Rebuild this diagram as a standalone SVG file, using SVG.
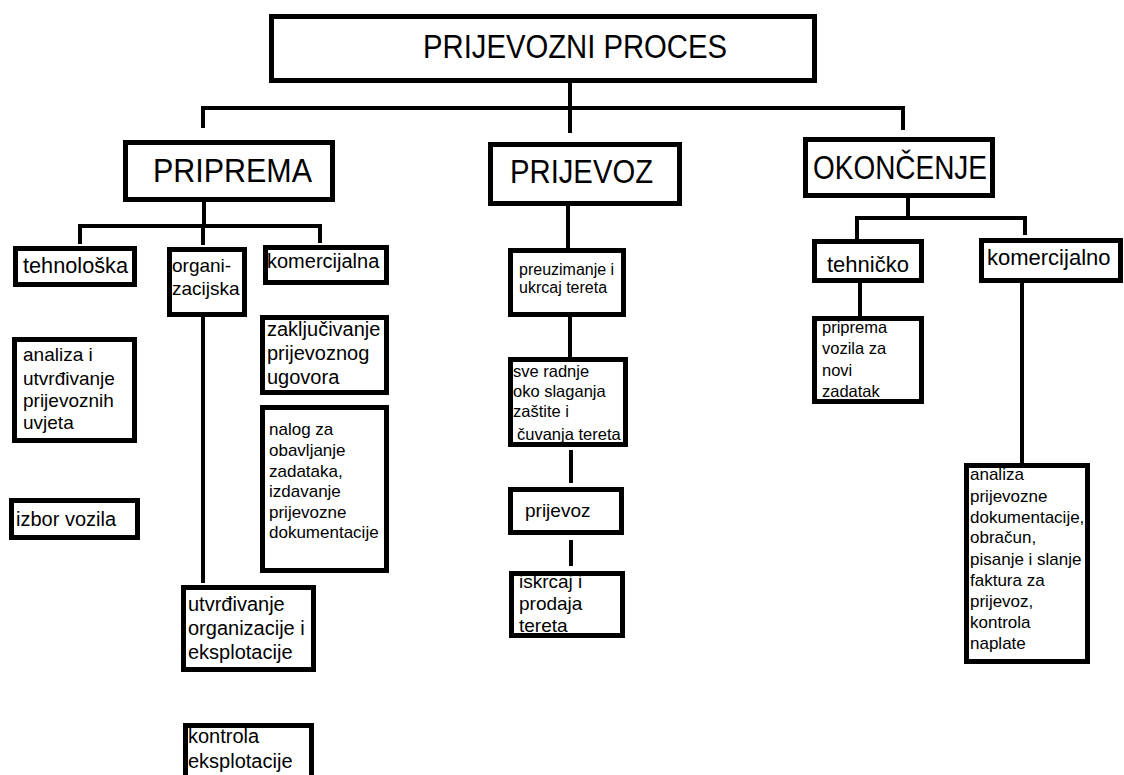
<svg xmlns="http://www.w3.org/2000/svg" width="1124" height="775" viewBox="0 0 1124 775">
<style>
.b{fill:#fff;stroke:#000;stroke-width:5}
.c{stroke:#000;stroke-width:4;fill:none}
text{font-family:"Liberation Sans",Arial,sans-serif;fill:#000}
.h{font-size:34px}
</style>
<rect width="1124" height="775" fill="#fff"/>
<g id="connectors">
<line class="c" x1="570" y1="83" x2="570" y2="133"/>
<line class="c" x1="201" y1="108" x2="905" y2="108"/>
<line class="c" x1="203" y1="108" x2="203" y2="128"/>
<line class="c" x1="903" y1="108" x2="903" y2="130"/>
<line class="c" x1="204" y1="202" x2="204" y2="226"/>
<line class="c" x1="78" y1="226" x2="322" y2="226"/>
<line class="c" x1="80" y1="226" x2="80" y2="244"/>
<line class="c" x1="203" y1="226" x2="203" y2="245"/>
<line class="c" x1="320" y1="226" x2="320" y2="243"/>
<line class="c" x1="203" y1="317" x2="203" y2="583"/>
<line class="c" x1="568" y1="205" x2="568" y2="248"/>
<line class="c" x1="570" y1="317" x2="570" y2="357"/>
<line class="c" x1="571" y1="450" x2="571" y2="483"/>
<line class="c" x1="571" y1="540" x2="571" y2="566"/>
<line class="c" x1="908" y1="198" x2="908" y2="218"/>
<line class="c" x1="855" y1="218" x2="1027" y2="218"/>
<line class="c" x1="857" y1="218" x2="857" y2="239"/>
<line class="c" x1="1025" y1="218" x2="1025" y2="235"/>
<line class="c" x1="860" y1="283" x2="860" y2="325"/>
<line class="c" x1="1022" y1="283" x2="1022" y2="463"/>
</g>
<g id="n-root"><rect class="b" x="271.5" y="16.5" width="543" height="64"/><text x="423" y="58" font-size="33" textLength="304" lengthAdjust="spacingAndGlyphs">PRIJEVOZNI PROCES</text></g>
<g id="n-priprema"><rect class="b" x="125.5" y="142.5" width="207" height="57"/><text x="153" y="182" class="h" textLength="159" lengthAdjust="spacingAndGlyphs">PRIPREMA</text></g>
<g id="n-prijevoz"><rect class="b" x="490.5" y="144.5" width="189" height="59"/><text x="510" y="183" class="h" textLength="143" lengthAdjust="spacingAndGlyphs">PRIJEVOZ</text></g>
<g id="n-okoncenje"><rect class="b" x="805.5" y="139.5" width="187" height="56"/><text x="813" y="179" class="h" textLength="174" lengthAdjust="spacingAndGlyphs">OKONČENJE</text></g>
<g id="n-tehnoloska"><rect class="b" x="15.5" y="248.5" width="119" height="36"/><text x="23" y="273" font-size="22" textLength="105" lengthAdjust="spacingAndGlyphs">tehnološka</text></g>
<g id="n-organizacijska"><rect class="b" x="169.5" y="249.5" width="75" height="65"/><text font-size="19"><tspan x="172" y="272">organi-</tspan><tspan x="172" y="295">zacijska</tspan></text></g>
<g id="n-komercijalna"><rect class="b" x="265.5" y="247.5" width="121" height="35"/><text x="267" y="268" font-size="20">komercijalna</text></g>
<g id="n-zakljucivanje"><rect class="b" x="262.5" y="317.5" width="124" height="75"/><text font-size="20"><tspan x="267" y="336">zaključivanje</tspan><tspan x="267" y="360">prijevoznog</tspan><tspan x="267" y="384">ugovora</tspan></text></g>
<g id="n-nalog"><rect class="b" x="262.5" y="407.5" width="124" height="163"/><text font-size="17"><tspan x="269" y="435">nalog za</tspan><tspan x="269" y="456">obavljanje</tspan><tspan x="269" y="477">zadataka,</tspan><tspan x="269" y="497">izdavanje</tspan><tspan x="269" y="518">prijevozne</tspan><tspan x="269" y="538">dokumentacije</tspan></text></g>
<g id="n-analiza-uvjeta"><rect class="b" x="14.5" y="339.5" width="120" height="101"/><text font-size="19"><tspan x="23" y="361">analiza i</tspan><tspan x="23" y="385">utvrđivanje</tspan><tspan x="23" y="407">prijevoznih</tspan><tspan x="23" y="429">uvjeta</tspan></text></g>
<g id="n-izbor"><rect class="b" x="11.5" y="500.5" width="126" height="37"/><text x="16" y="526" font-size="20">izbor vozila</text></g>
<g id="n-utvrdivanje-org"><rect class="b" x="183.5" y="587.5" width="130" height="82"/><text font-size="20"><tspan x="188" y="611">utvrđivanje</tspan><tspan x="188" y="635">organizacije i</tspan><tspan x="188" y="659">eksplotacije</tspan></text></g>
<g id="n-kontrola"><rect class="b" x="185.5" y="725.5" width="126" height="80"/><text font-size="20"><tspan x="188" y="743">kontrola</tspan><tspan x="188" y="768">eksplotacije</tspan></text></g>
<g id="n-preuzimanje"><rect class="b" x="510.5" y="250.5" width="113" height="64"/><text font-size="16"><tspan x="519" y="275">preuzimanje i</tspan><tspan x="519" y="293">ukrcaj tereta</tspan></text></g>
<g id="n-sve-radnje"><rect class="b" x="510.5" y="359.5" width="115" height="85"/><text font-size="16.5"><tspan x="513" y="377">sve radnje</tspan><tspan x="513" y="397">oko slaganja</tspan><tspan x="513" y="417">zaštite i</tspan><tspan x="517" y="440">čuvanja tereta</tspan></text></g>
<g id="n-prijevoz-mali"><rect class="b" x="510.5" y="489.5" width="111" height="43"/><text x="525" y="517" font-size="19">prijevoz</text></g>
<g id="n-iskrcaj"><rect class="b" x="511.5" y="573.5" width="111" height="62"/><text font-size="19"><tspan x="519" y="588">iskrcaj  i</tspan><tspan x="519" y="610">prodaja</tspan><tspan x="519" y="632">tereta</tspan></text></g>
<g id="n-tehnicko"><rect class="b" x="814.5" y="241.5" width="107" height="39"/><text x="827" y="272" font-size="22">tehničko</text></g>
<g id="n-priprema-vozila"><rect class="b" x="814.5" y="318.5" width="107" height="83"/><text font-size="16.5"><tspan x="822" y="333">priprema</tspan><tspan x="822" y="354">vozila za</tspan><tspan x="822" y="376">novi</tspan><tspan x="822" y="397">zadatak</tspan></text></g>
<g id="n-komercijalno"><rect class="b" x="981.5" y="240.5" width="139" height="40"/><text x="987" y="265" font-size="22">komercijalno</text></g>
<g id="n-analiza-dok"><rect class="b" x="966.5" y="465.5" width="121" height="196"/><text font-size="17"><tspan x="970" y="480">analiza</tspan><tspan x="970" y="502">prijevozne</tspan><tspan x="970" y="523">dokumentacije,</tspan><tspan x="970" y="543">obračun,</tspan><tspan x="970" y="565">pisanje i slanje</tspan><tspan x="970" y="586">faktura za</tspan><tspan x="970" y="607">prijevoz,</tspan><tspan x="970" y="628">kontrola</tspan><tspan x="970" y="649">naplate</tspan></text></g>
</svg>
